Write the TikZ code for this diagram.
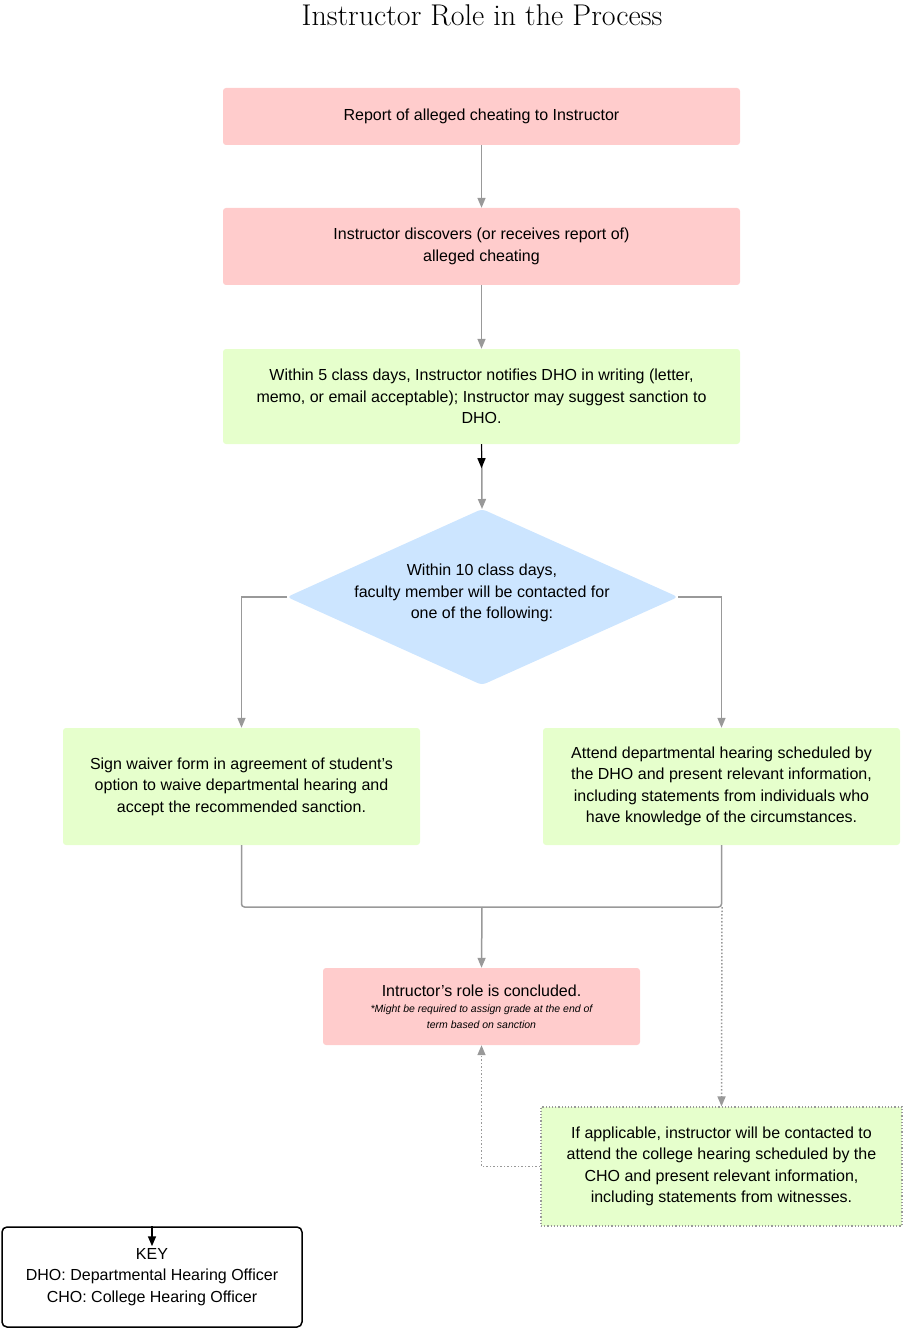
\documentclass[tikz,border=0pt]{standalone}
\usepackage{fontspec}
\setmainfont{Liberation Sans}
\newfontfamily\titlefont{Latin Modern Roman}
\usetikzlibrary{arrows.meta,shapes.geometric}
\definecolor{pk}{HTML}{FFCCCC}
\definecolor{gr}{HTML}{E6FFCC}
\definecolor{bl}{HTML}{CCE5FF}
\definecolor{ln}{HTML}{999999}
\begin{document}
\begin{tikzpicture}[x=1pt,y=-1pt,
  box/.style={rounded corners=3pt,draw=none,align=center,font=\fontsize{16}{21.5}\selectfont},
  con/.style={draw=ln,line width=1.5pt,-{Triangle[length=10pt,width=8pt]}},
  ln/.style={draw=ln,line width=1.5pt},
  dot/.style={draw=ln,line width=1.5pt,dotted}]
\useasboundingbox (0,0) rectangle (904,1329);
\node[font=\titlefont\fontsize{30}{34}\selectfont] (title) at (482,15) {Instructor Role in the Process};
\node[box,fill=pk,minimum width=517pt,minimum height=57pt] (b1) at (481.5,116.5) {Report of alleged cheating to Instructor};
\node[box,fill=pk,minimum width=517pt,minimum height=77pt] (b2) at (481.5,246.5) {Instructor discovers (or receives report of)\\alleged cheating};
\node[box,fill=gr,minimum width=517pt,minimum height=95pt] (b3) at (481.5,396.5) {Within 5 class days, Instructor notifies DHO in writing (letter,\\memo, or email acceptable); Instructor may suggest sanction to\\DHO.};
\fill[bl,rounded corners=4pt] (482,509) -- (678,597) -- (482,685) -- (287,597) -- cycle;
\coordinate (dn) at (482,509);
\coordinate (dw) at (287,597);
\coordinate (de) at (678,597);
\node[box] (d) at (482,593) {Within 10 class days,\\faculty member will be contacted for\\one of the following:};
\node[box,fill=gr,minimum width=357pt,minimum height=117pt] (l) at (241.5,786.5) {Sign waiver form in agreement of student's\\option to waive departmental hearing and\\accept the recommended sanction.};
\node[box,fill=gr,minimum width=357pt,minimum height=117pt] (r) at (721.5,786.5) {Attend departmental hearing scheduled by\\the DHO and present relevant information,\\including statements from individuals who\\have knowledge of the circumstances.};
\node[box,fill=pk,minimum width=317pt,minimum height=77pt] (c) at (481.5,1006.5) {Intructor's role is concluded.\\[-5pt]{\fontsize{10.5}{15}\selectfont\itshape *Might be required to assign grade at the end of}\\[-6pt]{\fontsize{10.5}{15}\selectfont\itshape term based on sanction}};
\node[box,fill=gr,rounded corners=0pt,draw=ln,dotted,line width=1.2pt,minimum width=361pt,minimum height=119pt] (f) at (721.5,1166.5) {If applicable, instructor will be contacted to\\attend the college hearing scheduled by the\\CHO and present relevant information,\\including statements from witnesses.};
\node[box,fill=white,draw=black,line width=1.5pt,rounded corners=5pt,minimum width=300pt,minimum height=100pt] (k) at (152,1277) {KEY\\DHO: Departmental Hearing Officer\\CHO: College Hearing Officer};
\coordinate (j) at (482,907);
\coordinate (jr) at (722,907);
\draw[con] (b1) -- (b2);
\draw[con] (b2) -- (b3);
\draw[con] (b3) -- (dn);
\draw[line width=1.5pt,-{Triangle[length=10pt,width=8pt]}] (b3.south) -- ++(0,24);
\draw[line width=1.5pt,-{Triangle[length=10pt,width=8pt]}] (k.north) -- ++(0,20);
\draw[con] (dw) -| (l.north);
\draw[con] (de) -| (r.north);
\draw[ln,rounded corners=3pt] (l.south) |- (j);
\draw[ln,rounded corners=3pt] (r.south) |- (j);
\draw[con] (j) -- (c.north);
\draw[dot,-{Triangle[length=10pt,width=8pt]}] (jr) -- (f.north);
\draw[dot,-{Triangle[length=10pt,width=8pt]}] (f.west) -| (c.south);
\end{tikzpicture}
\end{document}
